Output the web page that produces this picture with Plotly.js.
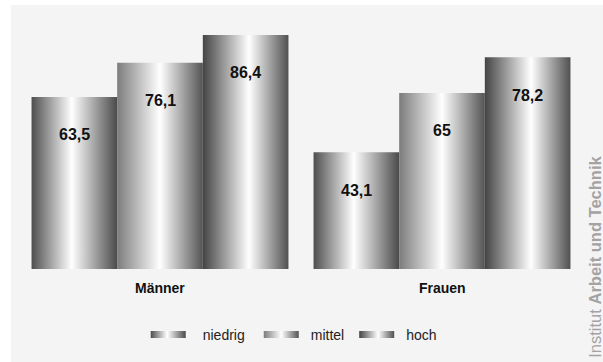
<!DOCTYPE html>
<html>
<head>
<meta charset="utf-8">
<script src="https://cdn.plot.ly/plotly-3.0.1.min.js"></script>
<style>
  html, body { margin: 0; padding: 0; background: #ffffff; }
  #chart { position: absolute; left: 11px; top: 5px; width: 592px; height: 357px; }
</style>
</head>
<body>
<div id="chart"></div>
<script>
// ---- data ----
const categories = ['Männer', 'Frauen'];
const seriesNames = ['niedrig', 'mittel', 'hoch'];
const niedrig = [63.5, 43.1];
const mittel = [76.1, 65];
const hoch = [86.4, 78.2];
const sourceText = 'Institut <b>Arbeit und Technik</b>';

// ---- styles ----
const seriesValues = [niedrig, mittel, hoch];
const gradients = [
  [[0, '#4e4e4e'], [0.47, '#ffffff'], [1, '#4a4a4a']],
  [[0, '#7c7c7c'], [0.5, '#ffffff'], [1, '#545454']],
  [[0, '#444444'], [0.54, '#ffffff'], [1, '#505050']]
];
const BAR_PX = 85.6;                 // bar width in px, for centering labels
const legendShift = [4, 20, 27];     // px nudges of legend entries
const legendTextShift = [0, -5, -5]; // px nudges of legend texts

function fmt(v) { return String(v).replace('.', ','); }

const traces = seriesValues.map((vals, i) => ({
  type: 'bar',
  x: categories,
  y: vals,
  name: seriesNames[i],
  marker: { color: '#888888', line: { width: 0 } },
  hoverinfo: 'none'
}));

const annotations = [];
seriesValues.forEach((vals, i) => {
  vals.forEach((v, j) => {
    annotations.push({
      x: categories[j], y: v, xref: 'x', yref: 'y',
      text: '<b>' + fmt(v) + '</b>', showarrow: false,
      xanchor: 'center', yanchor: 'middle',
      xshift: (i - 1) * BAR_PX, yshift: -38,
      font: { family: 'Liberation Sans, Arial, sans-serif', size: 16, color: '#111111' }
    });
  });
});
categories.forEach((c) => {
  annotations.push({
    x: c, y: 0, xref: 'x', yref: 'y',
    text: '<b>' + c + '</b>', showarrow: false,
    xanchor: 'center', yanchor: 'middle',
    yshift: -19,
    font: { family: 'Liberation Sans, Arial, sans-serif', size: 14, color: '#111111' }
  });
});
annotations.push({
  xref: 'paper', yref: 'paper', x: 1.021, y: -0.365,
  xanchor: 'center', yanchor: 'bottom',
  text: sourceText, textangle: -90, showarrow: false,
  font: { family: 'Liberation Sans, Arial, sans-serif', size: 16.5, color: '#a3a3a3' }
});

const layout = {
  width: 592, height: 357,
  margin: { l: 8, r: 20, t: 15, b: 93 },
  paper_bgcolor: '#f4f4f4',
  plot_bgcolor: '#f4f4f4',
  barmode: 'group',
  bargap: 0.089,
  bargroupgap: 0,
  separators: ',.',
  xaxis: { type: 'category', range: [-0.5, 1.5], showticklabels: false, showgrid: false, zeroline: false, showline: false, ticks: '' },
  yaxis: { range: [0, 91.92], showticklabels: false, showgrid: false, zeroline: false, showline: false, ticks: '' },
  showlegend: true,
  legend: {
    orientation: 'h', x: 0.23, xanchor: 'left', y: -0.265, yanchor: 'middle',
    bgcolor: 'rgba(0,0,0,0)', itemwidth: 40,
    font: { family: 'Liberation Sans, Arial, sans-serif', size: 14, color: '#222222' }
  },
  annotations: annotations,
  font: { family: 'Liberation Sans, Arial, sans-serif' }
};

Plotly.newPlot('chart', traces, layout, { staticPlot: true, displayModeBar: false }).then(gd => {
  const svg = gd.querySelector('svg.main-svg');
  const NS = 'http://www.w3.org/2000/svg';
  let defs = svg.querySelector('defs');
  if (!defs) { defs = document.createElementNS(NS, 'defs'); svg.insertBefore(defs, svg.firstChild); }
  gradients.forEach((stops, i) => {
    const lg = document.createElementNS(NS, 'linearGradient');
    lg.setAttribute('id', 'barGrad' + i);
    lg.setAttribute('x1', '0'); lg.setAttribute('x2', '1');
    lg.setAttribute('y1', '0'); lg.setAttribute('y2', '0');
    stops.forEach(s => {
      const st = document.createElementNS(NS, 'stop');
      st.setAttribute('offset', s[0]);
      st.setAttribute('stop-color', s[1]);
      lg.appendChild(st);
    });
    defs.appendChild(lg);
  });
  gd.querySelectorAll('.barlayer .trace.bars').forEach((tr, i) => {
    tr.querySelectorAll('path').forEach(p => { p.style.fill = 'url(#barGrad' + i + ')'; p.style.fillOpacity = 1; });
  });
  gd.querySelectorAll('.legend .scrollbox, .legend [clip-path]').forEach(el => el.removeAttribute('clip-path'));
  gd.querySelectorAll('.legend .traces').forEach((tr, i) => {
    tr.querySelectorAll('.legendpoints path').forEach(p => {
      p.setAttribute('d', 'M-27,-3.5h35v7h-35z');
      p.style.fill = 'url(#barGrad' + i + ')';
      p.style.stroke = 'none';
    });
    const txt = tr.querySelector('text.legendtext');
    if (txt) {
      const x0 = parseFloat(txt.getAttribute('x') || '0');
      txt.setAttribute('x', x0 + legendTextShift[i]);
    }
    const t = tr.getAttribute('transform') || '';
    const m = t.match(/translate\(\s*([-\d.]+)[ ,]+([-\d.]+)\s*\)/);
    if (m) {
      tr.setAttribute('transform', 'translate(' + (parseFloat(m[1]) + legendShift[i]) + ',' + m[2] + ')');
    }
  });
});
</script>
</body>
</html>
